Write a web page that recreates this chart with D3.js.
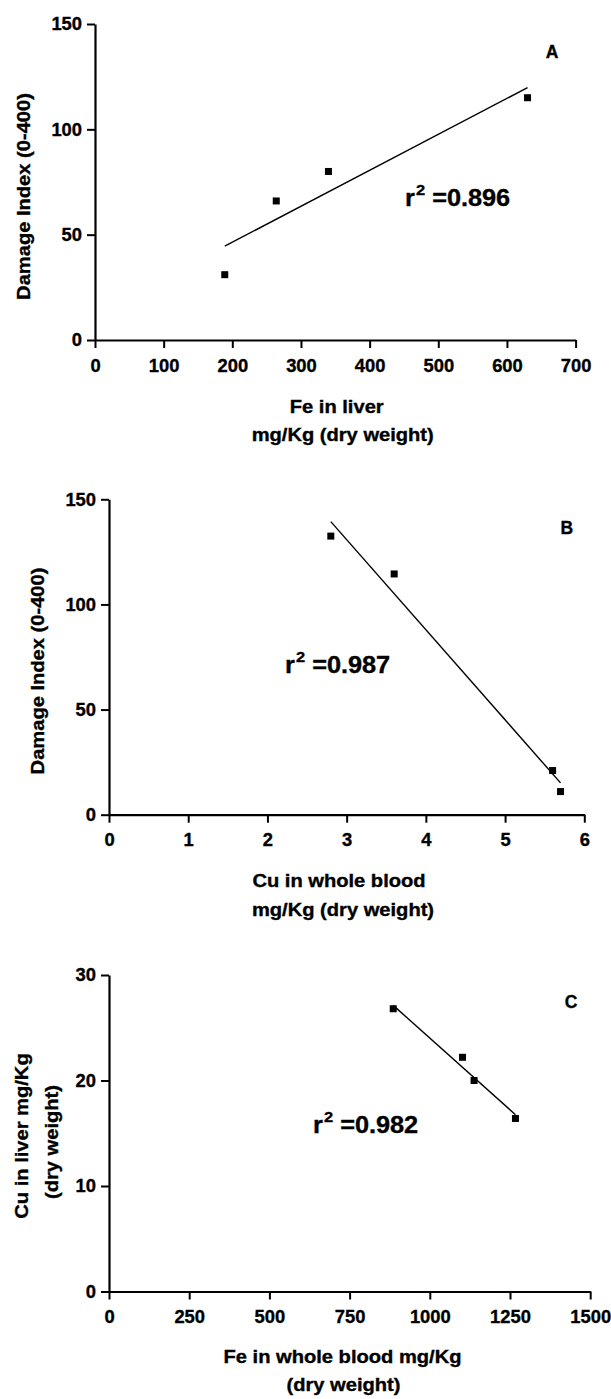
<!DOCTYPE html>
<html>
<head>
<meta charset="utf-8">
<script src="https://cdn.jsdelivr.net/npm/d3@7"></script>
<style>
  html, body { margin: 0; padding: 0; background: #fff; }
  svg { display: block; }
  text { font-family: "Liberation Sans", Arial, Helvetica, sans-serif; font-weight: bold; fill: #000; stroke: #000; stroke-width: 0.35px; }
</style>
</head>
<body>
<svg id="chart" width="611" height="1399"></svg>
<script>
// ---------- data ----------
const feLiverA = [189, 264, 340, 630];
const damageA  = [31, 66, 80, 115];
const cuBloodB = [2.8, 3.6, 5.6, 5.7];
const damageB  = [132.5, 114.5, 21, 11];
const feBloodC = [886, 1102, 1138, 1267];
const cuLiverC = [26.8, 22.2, 20.0, 16.4];

const ticksAx = [0, 100, 200, 300, 400, 500, 600, 700];
const ticksAy = [0, 50, 100, 150];
const ticksBx = [0, 1, 2, 3, 4, 5, 6];
const ticksBy = [0, 50, 100, 150];
const ticksCx = [0, 250, 500, 750, 1000, 1250, 1500];
const ticksCy = [0, 10, 20, 30];

const r2Labels = ["0.896", "0.987", "0.982"];
const panelLetters = ["A", "B", "C"];
const xTitles = [["Fe in liver", "mg/Kg (dry weight)"],
                 ["Cu in whole blood", "mg/Kg (dry weight)"],
                 ["Fe in whole blood mg/Kg", "(dry weight)"]];
const yTitles = [["Damage Index (0-400)"],
                 ["Damage Index (0-400)"],
                 ["Cu in liver mg/Kg", "(dry weight)"]];

// ---------- layout ----------
const S = 1.15;        // horizontal stretch of the titles
const ST = 1.02;       // horizontal stretch of tick labels
const FS = 17.5;       // base font size
const TFS = 18;        // tick label font size
const layouts = [
  { xr: [95, 575.6], yr: [340, 24],
    xt: [[336.7, 412.5], [342.7, 441]], yt: [[29.6, 196.5]],
    r2: [405, 205.5], letter: [552, 58.3] },
  { xr: [109, 584.3], yr: [814.7, 499.3],
    xt: [[339, 887], [343, 915.5]], yt: [[44, 671]],
    r2: [285, 672.7], letter: [566.7, 533.5] },
  { xr: [109, 590.2], yr: [1291.5, 975],
    xt: [[342.5, 1362.5], [343.5, 1391]], yt: [[28, 1136], [58, 1142]],
    r2: [313, 1132.7], letter: [571, 1008] }
];
const panels = [
  { xs: feLiverA, ys: damageA, tx: ticksAx, ty: ticksAy },
  { xs: cuBloodB, ys: damageB, tx: ticksBx, ty: ticksBy },
  { xs: feBloodC, ys: cuLiverC, tx: ticksCx, ty: ticksCy }
];

const svg = d3.select("#chart");

function label(g, x, y, str, opts = {}) {
  const rot = opts.rotate || 0;
  return g.append("text")
    .attr("transform", `translate(${x},${y}) rotate(${rot}) scale(${opts.stretch || S},1)`)
    .attr("text-anchor", opts.anchor || "middle")
    .attr("font-size", opts.size || FS)
    .text(str);
}

function linReg(xs, ys) {
  const n = xs.length;
  const mx = d3.mean(xs), my = d3.mean(ys);
  let sxy = 0, sxx = 0;
  for (let i = 0; i < n; i++) { sxy += (xs[i] - mx) * (ys[i] - my); sxx += (xs[i] - mx) ** 2; }
  const b = sxy / sxx;
  return x => my + b * (x - mx);
}

panels.forEach((p, i) => {
  const L = layouts[i];
  const g = svg.append("g");
  const x = d3.scaleLinear().domain(d3.extent(p.tx)).range(L.xr);
  const y = d3.scaleLinear().domain(d3.extent(p.ty)).range(L.yr);

  // axes
  const gx = g.append("g").attr("transform", `translate(0,${L.yr[0]})`)
    .call(d3.axisBottom(x).tickValues(p.tx).tickFormat(d3.format("d")).tickSize(8).tickSizeOuter(0).tickPadding(12));
  const gy = g.append("g").attr("transform", `translate(${L.xr[0]},0)`)
    .call(d3.axisLeft(y).tickValues(p.ty).tickFormat(d3.format("d")).tickSize(8).tickSizeOuter(0).tickPadding(5));
  [gx, gy].forEach(a => {
    a.select(".domain").attr("stroke", "#000").attr("stroke-width", 2.2);
    a.selectAll(".tick line").attr("stroke", "#000").attr("stroke-width", 2);
    a.selectAll(".tick text").attr("font-size", TFS).attr("font-family", null)
      .attr("transform", `scale(${ST},1)`);
    a.attr("font-family", null);
  });
  gy.selectAll(".tick text").attr("x", -13 / ST);
  gx.selectAll(".tick text").attr("y", 19);

  // regression line
  const f = linReg(p.xs, p.ys);
  const x0 = d3.min(p.xs), x1 = d3.max(p.xs);
  g.append("line")
    .attr("x1", x(x0)).attr("y1", y(f(x0)))
    .attr("x2", x(x1)).attr("y2", y(f(x1)))
    .attr("stroke", "#000").attr("stroke-width", 1.4);

  // points
  const sz = 7;
  g.selectAll("rect.pt").data(p.xs.map((d, k) => [d, p.ys[k]])).join("rect")
    .attr("class", "pt")
    .attr("x", d => x(d[0]) - sz / 2).attr("y", d => y(d[1]) - sz / 2)
    .attr("width", sz).attr("height", sz).attr("fill", "#000");

  // axis titles
  xTitles[i].forEach((t, k) => label(g, L.xt[k][0], L.xt[k][1], t));
  yTitles[i].forEach((t, k) => label(g, L.yt[k][0], L.yt[k][1], t, { rotate: -90 }));

  // panel letter
  label(g, L.letter[0], L.letter[1], panelLetters[i], { stretch: 1.0 });

  // r^2 annotation
  const rt = g.append("text")
    .attr("transform", `translate(${L.r2[0]},${L.r2[1]}) scale(1.1,1)`)
    .attr("text-anchor", "start").attr("font-size", 23);
  rt.append("tspan").text("r");
  rt.append("tspan").attr("font-size", 15).attr("dy", -11).attr("dx", 1).text("2");
  rt.append("tspan").attr("dy", 11).text("\u00a0=" + r2Labels[i]);
});
</script>
</body>
</html>
